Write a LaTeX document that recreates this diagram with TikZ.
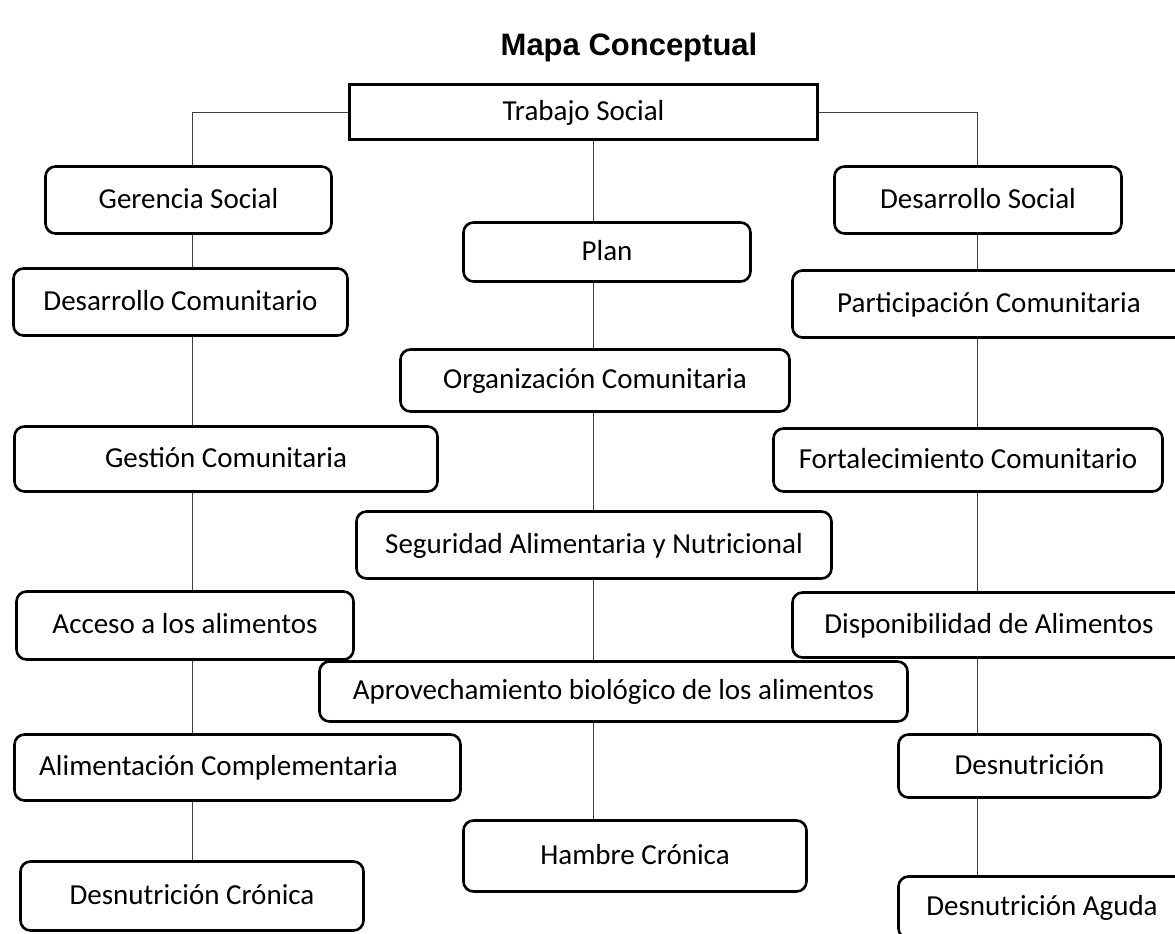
\documentclass[tikz,border=0pt]{standalone}
\usepackage{fontspec}
\setmainfont{Carlito}
\newfontfamily\titlefont{Liberation Sans}
\begin{document}
\begin{tikzpicture}[x=1pt, y=-1pt,
    concept/.style={draw, line width=2.6pt, rounded corners=10pt, inner sep=0pt,
      text height=20pt, text depth=4pt, font=\fontsize{29}{34}\selectfont},
    rootbox/.style={draw, line width=2.6pt, inner sep=0pt,
      text height=20pt, text depth=4pt, font=\fontsize{29}{34}\selectfont},
    link/.style={line width=1pt, black!75}]
        \useasboundingbox (0,0) rectangle (1175,934);
        % title
        \node[font=\titlefont\bfseries\fontsize{31}{36}\selectfont] (title) at (629,47) {Mapa Conceptual};
        % root
        \node[rootbox, minimum width=468, minimum height=55] (ts) at (583.5,112) {Trabajo Social};
        % columns of the links
        \coordinate (colL) at (192,0);
        \coordinate (colC) at (593,0);
        \coordinate (colR) at (977,0);
        % left branch
        \node[concept, minimum width=286, minimum height=67] (gerencia) at (188.5,200) {Gerencia Social};
        \node[concept, minimum width=334, minimum height=67] (desCom) at (180.5,302) {Desarrollo Comunitario};
        \node[concept, minimum width=423, minimum height=65] (gestion) at (226,459) {Gestión Comunitaria};
        \node[concept, minimum width=337, minimum height=68] (acceso) at (185,625.5) {Acceso a los alimentos};
        \node[concept, minimum width=446, minimum height=66,
          execute at begin node={\hspace*{-38pt}}] (alim) at (237.5,767.5) {Alimentación Complementaria};
        \node[concept, minimum width=343, minimum height=69] (desCron) at (192,896) {Desnutrición Crónica};
        % middle branch
        \node[concept, minimum width=287, minimum height=59] (plan) at (607,252) {Plan};
        \node[concept, minimum width=389, minimum height=62] (organiz) at (595,380.5) {Organización Comunitaria};
        \node[concept, minimum width=475, minimum height=67] (seguridad) at (594,545) {Seguridad Alimentaria y Nutricional};
        \node[concept, minimum width=588, minimum height=60] (aprov) at (613.5,691.5) {Aprovechamiento biológico de los alimentos};
        \node[concept, minimum width=343, minimum height=71] (hambre) at (635,856) {Hambre Crónica};
        % right branch
        \node[concept, minimum width=287, minimum height=67] (desSocial) at (978,200) {Desarrollo Social};
        \node[concept, minimum width=393, minimum height=67] (partic) at (989,304) {Participación Comunitaria};
        \node[concept, minimum width=389, minimum height=63] (fortal) at (968,460) {Fortalecimiento Comunitario};
        \node[concept, minimum width=393, minimum height=65] (dispon) at (989,625) {Disponibilidad de Alimentos};
        \node[concept, minimum width=262, minimum height=63] (desnut) at (1029.5,766) {Desnutrición};
        \node[concept, minimum width=287, minimum height=62] (desAguda) at (1042,907.5) {Desnutrición Aguda};
        % links
        \draw[link] (ts.west) -| (gerencia.north -| colL);
        \draw[link] (ts.east) -| (desSocial.north -| colR);
        \draw[link] (ts.south -| colC) -- (plan.north -| colC);
        \draw[link] (gerencia.south -| colL) -- (desCom.north -| colL);
        \draw[link] (desCom.south -| colL) -- (gestion.north -| colL);
        \draw[link] (gestion.south -| colL) -- (acceso.north -| colL);
        \draw[link] (acceso.south -| colL) -- (alim.north -| colL);
        \draw[link] (alim.south -| colL) -- (desCron.north -| colL);
        \draw[link] (plan.south -| colC) -- (organiz.north -| colC);
        \draw[link] (organiz.south -| colC) -- (seguridad.north -| colC);
        \draw[link] (seguridad.south -| colC) -- (aprov.north -| colC);
        \draw[link] (aprov.south -| colC) -- (hambre.north -| colC);
        \draw[link] (desSocial.south -| colR) -- (partic.north -| colR);
        \draw[link] (partic.south -| colR) -- (fortal.north -| colR);
        \draw[link] (fortal.south -| colR) -- (dispon.north -| colR);
        \draw[link] (dispon.south -| colR) -- (desnut.north -| colR);
        \draw[link] (desnut.south -| colR) -- (desAguda.north -| colR);
\end{tikzpicture}
\end{document}
